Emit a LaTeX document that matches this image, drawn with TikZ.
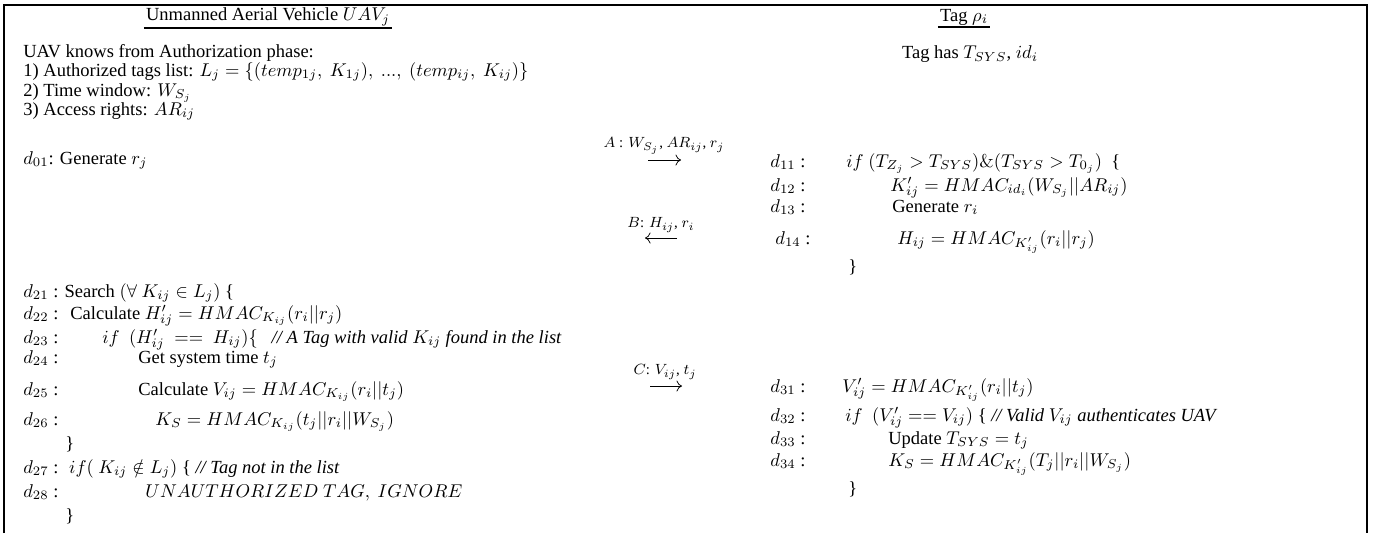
\documentclass[tikz,border=0pt]{standalone}
\usepackage[no-math]{fontspec}
\setmainfont{Liberation Serif}
\usepackage{amsmath, amssymb}
\usetikzlibrary{arrows.meta,positioning}

\begin{document}
\begin{tikzpicture}[x=0.019cm,y=-0.019cm]

\tikzset{
  heading/.style={inner sep=1pt},
  headrule/.style={black, line width=0.9pt},
  code/.style={anchor=base west, inner sep=0pt},
  msglabel/.style={font=\footnotesize, inner sep=0pt},
  message/.style={black, line width=0.4pt,
                  -{Computer Modern Rightarrow[length=3pt, width=6pt]}},
  boundary/.style={black, line width=1pt}
}

\useasboundingbox (0,0) rectangle (1378,533);

% Boundary, open at the bottom
\draw[boundary] (4,533) -- (4,5) -- (1367,5) -- (1367,533);

% Headings
\node[heading] (uav) at (268,17) {Unmanned Aerial Vehicle $UAV_j$};
\draw[headrule] (uav.south west) -- (uav.south east);
\node[heading] (tag) at (964,17) {Tag $\rho_i$};
\draw[headrule] (tag.south west) -- (tag.south east);

% What each side knows
\node[code] (know) at (23,57) {UAV knows from Authorization phase:};
\node[code] (k1) at (23,76) {1) Authorized tags list: $L_j=\{(temp_{1j},\ K_{1j}),\ ...,\ (temp_{ij},\ K_{ij})\}$};
\node[code] (k2) at (23,96) {2) Time window: $W_{S_j}$};
\node[code] (k3) at (23,115) {3) Access rights: $AR_{ij}$};
\node[code] (d01) at (23,164) {$d_{01}$: Generate $r_j$};
\node (has) at (970,54) {Tag has $T_{SYS}$, $id_i$};

% Messages
\node[msglabel] (aLbl) at (664,146) {$A$ : $W_{S_j}$, $AR_{ij}$, $r_j$};
\coordinate (aFrom) at (648,160);
\coordinate (aTo) at (681,160);
\draw[message] (aFrom) -- (aTo);

\node[msglabel] (bLbl) at (661,225) {$B$: $H_{ij}$, $r_i$};
\coordinate (bFrom) at (677,238);
\coordinate (bTo) at (645,238);
\draw[message] (bFrom) -- (bTo);

\node[msglabel] (cLbl) at (665,372) {$C$: $V_{ij}$, $t_j$};
\coordinate (cFrom) at (650,386);
\coordinate (cTo) at (682,386);
\draw[message] (cFrom) -- (cTo);

% Tag, first part
\node[code] (d11) at (770,167) {$d_{11}$ :};
\node[code] (s11) at (846,167) {$if\ (T_{Z_j} > T_{SYS})\&(T_{SYS} > T_{0_j})$ \ \{};
\node[code] (d12) at (770,191) {$d_{12}$ :};
\node[code] (s12) at (890,191) {$K'_{ij} = HMAC_{id_i}(W_{S_j}||AR_{ij})$};
\node[code] (d13) at (770,212) {$d_{13}$ :};
\node[code] (s13) at (892,212) {Generate $r_i$};
\node[code] (d14) at (775,244) {$d_{14}$ :};
\node[code] (s14) at (897,244) {$H_{ij} = HMAC_{K'_{ij}}(r_i||r_j)$};
\node[code] (e14) at (848,272) {\}};

% UAV, search
\node[code] (d21) at (23,297) {$d_{21}$ : Search $(\forall\ K_{ij} \in L_j)$ \{};
\node[code] (d22) at (23,319) {$d_{22}$ :};
\node[code] (s22) at (70,319) {Calculate $H'_{ij} = HMAC_{K_{ij}}(r_i||r_j)$};
\node[code] (d23) at (23,343) {$d_{23}$ :};
\node[code] (s23) at (102,343) {$if\ \ (H'_{ij}\ ==\ H_{ij})\{$ \ \ \textit{// A Tag with valid $K_{ij}$ found in the list}};
\node[code] (d24) at (23,363) {$d_{24}$ :};
\node[code] (s24) at (138,363) {Get system time $t_j$};
\node[code] (d25) at (23,395) {$d_{25}$ :};
\node[code] (s25) at (138,395) {Calculate $V_{ij} = HMAC_{K_{ij}}(r_i||t_j)$};
\node[code] (d26) at (23,425) {$d_{26}$ :};
\node[code] (s26) at (155,425) {$K_S = HMAC_{K_{ij}}(t_j||r_i||W_{S_j})$};
\node[code] (e26) at (65,449) {\}};
\node[code] (d27) at (23,473) {$d_{27}$ : \ $if(\ K_{ij} \notin L_j)$ \{ \textit{// Tag not in the list}};
\node[code] (d28) at (23,497) {$d_{28}$ :};
\node[code] (s28) at (145,497) {$UNAUTHORIZED\ TAG,\ IGNORE$};
\node[code] (e28) at (65,521) {\}};

% Tag, second part
\node[code] (d31) at (770,392) {$d_{31}$ :};
\node[code] (s31) at (842,392) {$V'_{ij} = HMAC_{K'_{ij}}(r_i||t_j)$};
\node[code] (d32) at (770,421) {$d_{32}$ :};
\node[code] (s32) at (845,421) {$if\ \ (V'_{ij} == V_{ij})$ \{ \textit{// Valid $V_{ij}$ authenticates UAV}};
\node[code] (d33) at (770,444) {$d_{33}$ :};
\node[code] (s33) at (888,444) {Update $T_{SYS} = t_j$};
\node[code] (d34) at (770,466) {$d_{34}$ :};
\node[code] (s34) at (888,466) {$K_S = HMAC_{K'_{ij}}(T_j||r_i||W_{S_j})$};
\node[code] (e34) at (848,494) {\}};

\end{tikzpicture}
\end{document}
